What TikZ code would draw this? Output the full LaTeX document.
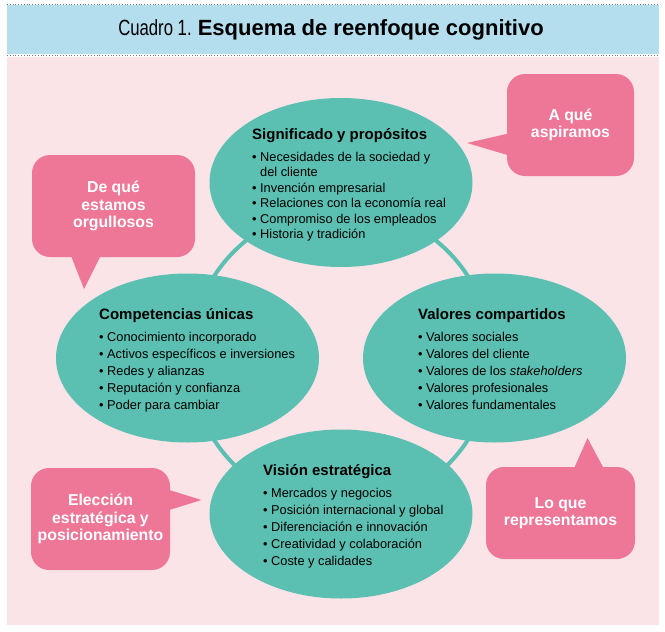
\documentclass[tikz,border=0pt]{standalone}
\usepackage{fontspec}
\setmainfont{Liberation Sans}
\usepackage{graphicx}
\usepackage{tikz}
\usetikzlibrary{shapes.geometric, positioning}
\definecolor{CBpink}{RGB}{251,228,231}
\definecolor{CBblue}{RGB}{180,222,238}
\definecolor{CBteal}{RGB}{91,191,177}
\definecolor{CBrose}{RGB}{238,119,152}
\definecolor{CBdot}{RGB}{105,125,140}
\newcommand{\itm}{\makebox[8pt][l]{\textbullet}}
\newcommand{\hd}[1]{{\fontsize{15}{17}\selectfont\bfseries #1}}

\begin{document}
\begin{tikzpicture}[x=1pt, y=-1pt,
    blob/.style={ellipse, fill=CBteal, minimum width=263pt, minimum height=169pt, inner sep=0pt},
    blurb/.style={anchor=north west, inner sep=0pt, align=left, font=\fontsize{12.8}{17}\selectfont},
    bubble/.style={fill=CBrose, rounded corners=18pt, text=white, align=center, inner sep=0pt,
      font=\fontsize{15.8}{17.3}\selectfont\bfseries}]
  \fill[white] (0,0) rectangle (665,632);
  \useasboundingbox (0,0) rectangle (665,632);
  \fill[CBblue] (7,5) rectangle (659,54);
  \fill[CBpink] (7,57) rectangle (659,625);
  \foreach \yy in {4.5,55}
    \draw[CBdot, dotted, line width=0.8pt] (7,\yy) -- (659,\yy);
  \node (title) at (331,30) {\fontsize{22}{26}\selectfont \scalebox{0.76}[1]{Cuadro 1.} \textbf{Esquema de reenfoque cognitivo}};

  \coordinate (ctr) at (341,358);
  \draw[CBteal, line width=4pt] (ctr) circle[radius=151pt];
  \foreach \n/\p in {sig/{341,182.5}, com/{187.5,358}, val/{494.5,358}, vis/{341,514}}
    \node[blob] (\n) at (\p) {};

  \node[blurb, font=\fontsize{12.8}{15.5}\selectfont] (sigtxt) at (252,128) {\hd{Significado y propósitos}\\[6.5pt]
    \itm Necesidades de la sociedad y\\
    \hspace*{8pt}del cliente\\
    \itm Invención empresarial\\
    \itm Relaciones con la economía real\\
    \itm Compromiso de los empleados\\
    \itm Historia y tradición};
  \node[blurb] (comtxt) at (99,308) {\hd{Competencias únicas}\\[5pt]
    \itm Conocimiento incorporado\\
    \itm Activos específicos e inversiones\\
    \itm Redes y alianzas\\
    \itm Reputación y confianza\\
    \itm Poder para cambiar};
  \node[blurb] (valtxt) at (418,308) {\hd{Valores compartidos}\\[5pt]
    \itm Valores sociales\\
    \itm Valores del cliente\\
    \itm Valores de los \textit{stakeholders}\\
    \itm Valores profesionales\\
    \itm Valores fundamentales};
  \node[blurb] (vistxt) at (263,464) {\hd{Visión estratégica}\\[5pt]
    \itm Mercados y negocios\\
    \itm Posición internacional y global\\
    \itm Diferenciación e innovación\\
    \itm Creatividad y colaboración\\
    \itm Coste y calidades};

  \node[bubble, minimum width=127pt, minimum height=102pt] (asp) at (570.5,125) {A qué\\aspiramos};
  \node[bubble, minimum width=163pt, minimum height=102pt] (org) at (113.5,206) {De qué\\estamos\\orgullosos};
  \node[bubble, minimum width=139pt, minimum height=102pt] (ele) at (100.5,519) {Elección\\estratégica y\\posicionamiento};
  \node[bubble, minimum width=149pt, minimum height=92pt] (rep) at (560.5,513) {Lo que\\representamos};

  \coordinate (asptip) at (467,143);
  \coordinate (orgtip) at (84,289);
  \coordinate (eletip) at (201.5,500);
  \coordinate (reptip) at (587.5,438);
  \fill[CBrose] ([xshift=4pt, yshift=-8pt]asp.west) -- (asptip) -- ([xshift=4pt, yshift=-31pt]asp.west) -- cycle;
  \fill[CBrose] ([xshift=-43.5pt, yshift=4pt]org.south) -- (orgtip) -- ([xshift=-11.5pt, yshift=4pt]org.south) -- cycle;
  \fill[CBrose] ([xshift=-4pt, yshift=30pt]ele.east) -- (eletip) -- ([xshift=-4pt, yshift=8pt]ele.east) -- cycle;
  \fill[CBrose] ([xshift=12.5pt, yshift=-4pt]rep.north) -- (reptip) -- ([xshift=44.5pt, yshift=-4pt]rep.north) -- cycle;
\end{tikzpicture}
\end{document}
